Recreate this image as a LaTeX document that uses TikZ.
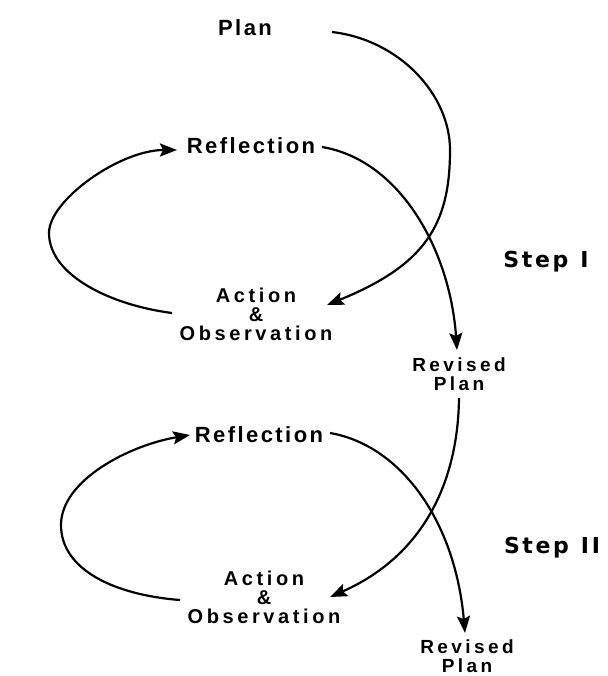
\documentclass[tikz,border=0pt]{standalone}
\usepackage{fontspec}
\usetikzlibrary{arrows.meta}
\newfontfamily\labelfont[LetterSpace=11]{Liberation Sans}
\newfontfamily\smallfont[LetterSpace=18]{Liberation Sans}
\newfontfamily\stepfont[LetterSpace=12]{DejaVu Sans}

\begin{document}
\begin{tikzpicture}[x=1pt,y=-1pt]

\tikzset{Label/.style = {inner sep=0pt, align=center, font=\labelfont\bfseries\fontsize{22}{22}\selectfont}}
\tikzset{SubLabel/.style = {inner sep=0pt, align=center, font=\smallfont\bfseries\fontsize{20}{19}\selectfont}}
\tikzset{RevLabel/.style = {inner sep=0pt, align=center, font=\smallfont\bfseries\fontsize{19}{19}\selectfont}}
\tikzset{StepLabel/.style = {inner sep=0pt, font=\stepfont\bfseries\fontsize{22}{22}\selectfont}}
\tikzset{Flow/.style = {line width=2.2pt, -{Stealth[length=17pt,width=13pt,inset=3pt]}}}

\useasboundingbox (0,0) rectangle (607,676);

\node[Label] (plan) at (245,28) {Plan};
\node[Label] (refl1) at (251,146) {Reflection};
\node[SubLabel] (act1) at (256,314) {Action\\\&\\Observation};
\node[StepLabel] (step1) at (546,262) {Step\hspace{12pt}I};
\node[RevLabel] (rev1) at (459,374) {Revised\\Plan};

\node[Label] (refl2) at (259,435) {Reflection};
\node[SubLabel] (act2) at (264,597) {Action\\\&\\Observation};
\node[StepLabel] (step2) at (552,548) {Step\hspace{12pt}II};
\node[RevLabel] (rev2) at (467,656) {Revised\\Plan};

\draw[Flow] ([shift={(87,4)}]plan.center) .. controls (400,40) and (450,95) .. (450,150)
  .. controls (450,225) and (425,265) .. ([shift={(71,-9)}]act1.center);
\draw[Flow] ([shift={(71,1)}]refl1.center) .. controls (400,160) and (450,250) .. ([shift={(-2,-24)}]rev1.center);
\draw[Flow] ([shift={(-84,-1)}]act1.center) .. controls (110,305) and (49,275) .. (49,233)
  .. controls (49,200) and (120,150) .. ([shift={(-74,4)}]refl1.center);

\draw[Flow] ([shift={(0,24)}]rev1.center) .. controls (458,480) and (425,555) .. ([shift={(66,0)}]act2.center);
\draw[Flow] ([shift={(71,-2)}]refl2.center) .. controls (400,445) and (455,520) .. ([shift={(-2,-23)}]rev2.center);
\draw[Flow] ([shift={(-84,3)}]act2.center) .. controls (115,595) and (61,570) .. (61,525)
  .. controls (61,480) and (130,445) .. ([shift={(-69,0)}]refl2.center);

\end{tikzpicture}
\end{document}
